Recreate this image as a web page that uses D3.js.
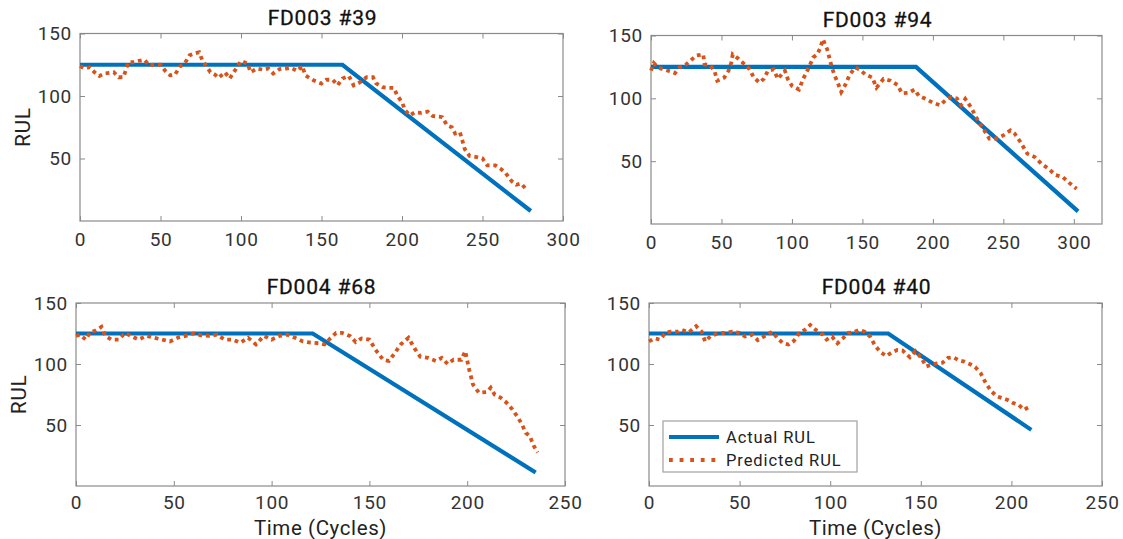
<!DOCTYPE html>
<html>
<head>
<meta charset="utf-8">
<script src="https://cdn.jsdelivr.net/npm/d3@7"></script>
<style>
  body { margin: 0; background: #fff; }
  svg { display: block; font-family: Roboto, "Noto Sans", sans-serif; }
</style>
</head>
<body>
<script>
const width = 1123
const height = 539

// ---- data ----
const titles = ["FD003 #39", "FD003 #94", "FD004 #68", "FD004 #40"]
const xMax = [300, 320, 250, 250]
const xTicks = [
  [0, 50, 100, 150, 200, 250, 300],
  [0, 50, 100, 150, 200, 250, 300],
  [0, 50, 100, 150, 200, 250],
  [0, 50, 100, 150, 200, 250]
]
const yTicks = [50, 100, 150]

// actual RUL (piecewise: cap at 125, then linear drop)
const actual39 = [[0, 125], [163, 125], [280, 8]]
const actual94 = [[0, 125], [188, 125], [303, 10]]
const actual68 = [[0, 125], [121, 125], [235, 11]]
const actual40 = [[0, 125], [132, 125], [211, 46]]

// predicted RUL [cycle, rul]
const pred39 = [
  [0,124],[3,122],[6,123],[9,119],[12,116],[15,118],[18,118.5],[21,119],[24,115],[27,115],
  [30,127],[33,127],[36,128],[40,129],[43,124.5],[46,125],[50,125],[53,120],[56,116.5],[59,117],
  [62,123.5],[65,126],[68,132.5],[71,134],[74,135],[76,128.5],[79,123],[81,119],[84,117],[86,114.5],
  [90,119],[93,114],[97,122],[100,128],[104,126],[106,119],[110,122],[114,121],[117,122],[120,118],
  [124,121.5],[128,122],[131,122.5],[135,120],[138,124],[140,116.5],[143,114],[145,112.5],[150,110],
  [153,113],[157,113],[160,108.5],[163,114],[167,116],[170,108.5],[174,111],[178,115],[182,115],
  [184,110],[188,107],[192,106.5],[195,106.5],[197,100.5],[200,95],[202,88.5],[205,84.5],[208,87],
  [212,86.5],[216,87.5],[219,84],[223,83.5],[225,83],[228,76.5],[231,75],[233,70],[236,71],[239,57.5],
  [242,52],[247,51],[250,50],[253,44.5],[258,44.5],[261,42],[264,39],[268,32],[271,29],[274,30],[278,24]
]
const pred94 = [
  [0,122],[2,128],[5,124.5],[9,123],[12,122],[15,121],[17,120],[20,124.5],[25,127],[28,130],
  [32,134],[37,135],[38,127],[42,126],[45,122],[47,114],[52,116.5],[55,122],[57,128.5],[58,135],
  [62,131.5],[65,128.5],[70,123],[73,116.5],[77,112.5],[80,115.5],[83,122],[87,123],[90,115.5],[95,122],
  [97,115.5],[100,110],[105,107],[108,115.5],[112,124.5],[115,132.5],[118,135],[120,140],[122,147],
  [125,139],[128,126],[130,119],[133,111],[135,105],[138,111],[141,119],[145,124.5],[148,123],[152,119],
  [157,116.5],[160,108.5],[165,115.5],[170,114],[175,110.5],[178,104],[183,104.5],[187,107],[190,102],
  [195,99.5],[200,96.5],[205,94.5],[210,99.5],[213,101],[217,100],[220,94.5],[223,99.5],[227,93],
  [230,86.5],[233,80.5],[237,73.5],[240,68],[245,68],[250,70.5],[255,74.5],[258,72],[262,65.5],
  [267,56],[272,53.5],[277,48],[282,44],[287,39],[292,37.5],[297,32.5],[302,28]
]
const pred68 = [
  [0,123],[2,124],[5,120],[7,125.5],[10,127.5],[13,130.5],[15,123],[18,120],[22,120],[25,125.5],
  [28,123],[32,120],[36,123],[40,121.5],[44,120],[48,118.5],[52,121.5],[56,123],[60,125],[64,123.5],
  [68,123],[72,124],[76,120],[80,120],[84,117.5],[88,121.5],[92,116],[96,123],[100,120],[104,123],
  [108,124],[112,121.5],[116,118.5],[120,117.5],[124,117],[127,116],[130,121],[133,125.5],[136,125.5],
  [140,123],[143,118],[146,121],[150,120],[153,112],[157,103.5],[160,102.5],[163,109],[166,116],
  [170,121.5],[173,113],[176,106],[180,105],[184,102.5],[187,105],[190,100],[193,103.5],[197,103.5],
  [199,110.5],[201,95.5],[203,83],[206,76.5],[210,77],[212,80.5],[214,75],[217,72.5],[220,68.5],
  [223,63],[226,56],[228,50.5],[230,43.5],[232,41],[234,33],[236,27.5]
]
const pred40 = [
  [0,118.5],[3,121],[6,120],[9,125.5],[12,126.5],[16,126.5],[18,128],[22,126],[26,131],[29,126.5],
  [31,118.5],[34,123],[38,125],[42,125.5],[46,126.5],[50,125.5],[53,122.5],[57,124],[60,119.5],[64,123],
  [68,126.5],[71,121],[74,117],[77,116],[80,119],[83,125.5],[86,128],[89,132],[92,128],[96,124],
  [98,120],[101,122.5],[104,117],[107,121],[110,125.5],[113,126],[116,128],[119,126.5],[122,122.5],
  [125,114.5],[128,109.5],[131,106.5],[134,109.5],[137,111.5],[140,111],[144,105.5],[147,110.5],
  [150,105.5],[153,98],[156,99.5],[159,100.5],[162,101],[165,105],[168,105.5],[171,103],[174,102],
  [177,100],[180,97.5],[183,92.5],[186,84],[189,77.5],[192,73.5],[195,72],[198,70.5],[201,68],
  [204,66.5],[207,62.5],[210,65]
]

const actualSeries = [actual39, actual94, actual68, actual40]
const predSeries = [pred39, pred94, pred68, pred40]

// ---- layout ----
const boxes = [
  {l: 80,  t: 33.5, r: 563,  b: 221},
  {l: 651, t: 35.5, r: 1102, b: 224},
  {l: 76,  t: 303,  r: 565,  b: 486},
  {l: 649, t: 303,  r: 1102, b: 486}
]
const blue = "#0072BD"
const orange = "#D95319"
const frameColor = "#8a8a8a"
const textColor = "#333"

const svg = d3.select("body").append("svg")
  .attr("width", width)
  .attr("height", height)

const line = d3.line()

boxes.forEach((b, i) => {
  const x = d3.scaleLinear().domain([0, xMax[i]]).range([b.l, b.r])
  const y = d3.scaleLinear().domain([0, 150]).range([b.b, b.t])
  const g = svg.append("g")

  // inward ticks on all four sides, labels bottom + left
  const tickLen = 5
  g.append("g")
    .attr("transform", `translate(0,${b.b})`)
    .call(d3.axisBottom(x).tickValues(xTicks[i]).tickSize(-tickLen).tickPadding(i < 2 ? 12 : 10))
    .call(a => a.select(".domain").remove())
    .call(a => a.selectAll("line").attr("stroke", frameColor))
    .call(a => a.selectAll("text").attr("font-size", 19).attr("fill", textColor)
      .attr("letter-spacing", 0.7).attr("font-family", "Roboto, sans-serif"))
  g.append("g")
    .attr("transform", `translate(0,${b.t})`)
    .call(d3.axisTop(x).tickValues(xTicks[i]).tickSize(-tickLen).tickFormat(""))
    .call(a => a.select(".domain").remove())
    .call(a => a.selectAll("line").attr("stroke", frameColor))
  g.append("g")
    .attr("transform", `translate(${b.l},0)`)
    .call(d3.axisLeft(y).tickValues(yTicks).tickSize(-tickLen).tickPadding(8))
    .call(a => a.select(".domain").remove())
    .call(a => a.selectAll("line").attr("stroke", frameColor))
    .call(a => a.selectAll("text").attr("font-size", 19).attr("fill", textColor)
      .attr("letter-spacing", 0.7).attr("font-family", "Roboto, sans-serif"))
  g.append("g")
    .attr("transform", `translate(${b.r},0)`)
    .call(d3.axisRight(y).tickValues(yTicks).tickSize(-tickLen).tickFormat(""))
    .call(a => a.select(".domain").remove())
    .call(a => a.selectAll("line").attr("stroke", frameColor))

  g.append("rect")
    .attr("x", b.l).attr("y", b.t)
    .attr("width", b.r - b.l).attr("height", b.b - b.t)
    .attr("fill", "none")
    .attr("stroke", frameColor)
    .attr("stroke-width", 1.2)

  // actual RUL
  g.append("path")
    .attr("d", line(actualSeries[i].map(d => [x(d[0]), y(d[1])])))
    .attr("fill", "none")
    .attr("stroke", blue)
    .attr("stroke-width", 4.2)

  // predicted RUL
  g.append("path")
    .attr("d", line(predSeries[i].map(d => [x(d[0]), y(d[1])])))
    .attr("fill", "none")
    .attr("stroke", orange)
    .attr("stroke-width", 3.8)
    .attr("stroke-dasharray", "3.8 3.8")

  // title
  g.append("text")
    .attr("x", (b.l + b.r) / 2 + 1)
    .attr("y", b.t - 9)
    .attr("text-anchor", "middle")
    .attr("font-size", 21)
    .attr("letter-spacing", 0.8)
    .attr("fill", "#111")
    .attr("stroke", "#111")
    .attr("stroke-width", 0.3)
    .text(titles[i])

  if (i % 2 === 0) {
    g.append("text")
      .attr("transform", `translate(${b.l - 50},${(b.t + b.b) / 2}) rotate(-90)`)
      .attr("text-anchor", "middle")
      .attr("font-size", 21)
      .attr("letter-spacing", 0.6)
      .attr("fill", "#222")
      .text("RUL")
  }
  if (i >= 2) {
    g.append("text")
      .attr("x", (b.l + b.r) / 2)
      .attr("y", b.b + 49)
      .attr("text-anchor", "middle")
      .attr("font-size", 20.5)
      .attr("letter-spacing", 0.6)
      .attr("fill", "#222")
      .text("Time (Cycles)")
  }
})

// legend in last panel
const lg = svg.append("g").attr("transform", "translate(663,421)")
lg.append("rect")
  .attr("width", 194).attr("height", 51)
  .attr("fill", "#fff")
  .attr("stroke", "#a0a0a0")
  .attr("stroke-width", 1.2)
const legendItems = [
  {label: "Actual RUL", color: blue, dash: null, w: 4.2},
  {label: "Predicted RUL", color: orange, dash: "3.8 6.8", w: 3.8}
]
legendItems.forEach((it, k) => {
  const yy = 16 + k * 23
  lg.append("line")
    .attr("x1", 6).attr("x2", 56)
    .attr("y1", yy).attr("y2", yy)
    .attr("stroke", it.color)
    .attr("stroke-width", it.w)
    .attr("stroke-dasharray", it.dash)
  lg.append("text")
    .attr("x", 63).attr("y", yy + 5.5)
    .attr("font-size", 16.5)
    .attr("fill", "#222")
    .attr("letter-spacing", 0.9)
    .text(it.label)
})
</script>
</body>
</html>
